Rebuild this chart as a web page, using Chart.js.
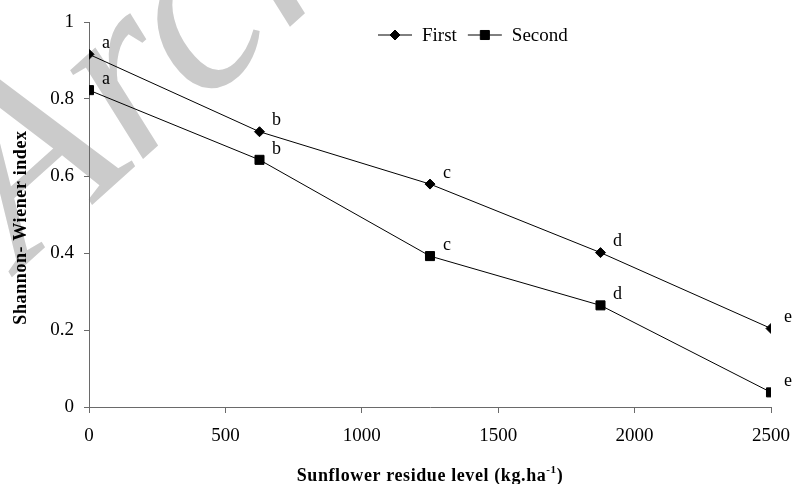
<!DOCTYPE html>
<html>
<head>
<meta charset="utf-8">
<script src="https://cdn.jsdelivr.net/npm/chart.js@4.4.0/dist/chart.umd.min.js"></script>
<style>
  html, body { margin: 0; padding: 0; background: #fff; }
  #wrap { width: 792px; height: 484px; }
</style>
</head>
<body>
<div id="wrap"><canvas id="chart" width="792" height="484"></canvas></div>
<script>
// residue levels (kg/ha) and Shannon-Wiener index
const residueLevels = [0, 625, 1250, 1875, 2500];
const firstValues = [0.916, 0.715, 0.579, 0.401, 0.204];
const secondValues = [0.823, 0.642, 0.392, 0.264, 0.038];
const firstLetters = ['a', 'b', 'c', 'd', 'e'];
const secondLetters = ['a', 'b', 'c', 'd', 'e'];
const seriesNames = ['First', 'Second'];

const SERIF = "'Liberation Serif', 'Times New Roman', serif";
const AXIS_COLOR = '#6a6a6a';

function toPoints(values) {
    return residueLevels.map((x, i) => ({ x: x, y: values[i] }));
}

// plain tick text: no thousands separator, "1" rather than "1.0"
function plainTick(value) {
    return String(Math.round(value * 10) / 10);
}

// faint diagonal watermark behind the plot
const watermark = {
    id: 'watermark',
    beforeDraw(chart) {
        const ctx = chart.ctx;
        ctx.save();
        ctx.fillStyle = '#cbcbcb';
        ctx.font = 'italic 250px ' + SERIF;
        ctx.translate(22, 268);
        ctx.rotate(-42 * Math.PI / 180);
        ctx.fillText('Archive of SID', 0, 0);
        ctx.restore();
    }
};

// significance letters next to each point
const pointLetters = {
    id: 'pointLetters',
    afterDatasetsDraw(chart) {
        const ctx = chart.ctx;
        const letterSets = [firstLetters, secondLetters];
        ctx.save();
        ctx.font = '18px ' + SERIF;
        ctx.fillStyle = '#000';
        ctx.textAlign = 'center';
        ctx.textBaseline = 'middle';
        chart.data.datasets.forEach((ds, di) => {
            chart.getDatasetMeta(di).data.forEach((pt, i) => {
                ctx.fillText(letterSets[di][i], pt.x + 17, pt.y - 11);
            });
        });
        ctx.restore();
    }
};

// legend inside the plot: short line with the marker through it
const lineLegend = {
    id: 'lineLegend',
    afterDraw(chart) {
        const ctx = chart.ctx;
        let x = 378;
        const y = 35;
        ctx.save();
        ctx.font = '19px ' + SERIF;
        ctx.textBaseline = 'middle';
        chart.data.datasets.forEach(ds => {
            ctx.strokeStyle = '#000';
            ctx.lineWidth = 1;
            ctx.beginPath();
            ctx.moveTo(x, y);
            ctx.lineTo(x + 34, y);
            ctx.stroke();
            ctx.fillStyle = '#000';
            Chart.helpers.drawPoint(ctx, {
                pointStyle: ds.pointStyle, radius: ds.pointRadius, borderWidth: 1
            }, x + 17, y);
            ctx.fillText(ds.label, x + 44, y + 1);
            x += 44 + ctx.measureText(ds.label).width + 11;
        });
        ctx.restore();
    }
};

// axis titles (x title carries a superscript)
const axisTitles = {
    id: 'axisTitles',
    afterDraw(chart) {
        const ctx = chart.ctx;
        const area = chart.chartArea;
        ctx.save();
        ctx.fillStyle = '#000';
        ctx.font = 'bold 18px ' + SERIF;
        ctx.letterSpacing = '0.6px';
        ctx.textBaseline = 'alphabetic';

        const main = 'Sunflower residue level (kg.ha';
        const sup = '-1';
        const end = ')';
        const wMain = ctx.measureText(main).width;
        const wEnd = ctx.measureText(end).width;
        ctx.font = 'bold 11px ' + SERIF;
        const wSup = ctx.measureText(sup).width;
        const cx = (area.left + area.right) / 2;
        let x = cx - (wMain + wSup + wEnd) / 2;
        const base = 481;
        ctx.font = 'bold 18px ' + SERIF;
        ctx.textAlign = 'left';
        ctx.fillText(main, x, base);
        x += wMain;
        ctx.font = 'bold 11px ' + SERIF;
        ctx.fillText(sup, x, base - 8);
        x += wSup;
        ctx.font = 'bold 18px ' + SERIF;
        ctx.fillText(end, x, base);

        ctx.translate(21, (area.top + area.bottom) / 2 + 13);
        ctx.rotate(-Math.PI / 2);
        ctx.textAlign = 'center';
        ctx.textBaseline = 'middle';
        ctx.fillText('Shannon- Wiener index', 0, 0);
        ctx.restore();
    }
};

const ctx = document.getElementById('chart').getContext('2d');
new Chart(ctx, {
    type: 'line',
    data: {
        datasets: [
            {
                label: seriesNames[0],
                data: toPoints(firstValues),
                borderColor: '#000',
                backgroundColor: '#000',
                borderWidth: 1,
                pointStyle: 'rectRot',
                pointRadius: 5,
                pointBorderWidth: 1,
                tension: 0
            },
            {
                label: seriesNames[1],
                data: toPoints(secondValues),
                borderColor: '#000',
                backgroundColor: '#000',
                borderWidth: 1,
                pointStyle: 'rect',
                pointRadius: 6.4,
                pointBorderWidth: 1,
                tension: 0
            }
        ]
    },
    options: {
        responsive: false,
        animation: false,
        devicePixelRatio: 1,
        layout: { padding: { left: 0, top: 22, right: 0, bottom: 0 } },
        scales: {
            x: {
                type: 'linear',
                min: 0, max: 2500,
                ticks: { stepSize: 500, padding: 12, color: '#000', callback: plainTick,
                         font: { family: SERIF, size: 19 } },
                grid: { drawOnChartArea: false, drawTicks: true, tickLength: 6, color: AXIS_COLOR },
                border: { display: true, color: AXIS_COLOR, width: 1 },
                afterFit(scale) {
                    scale.height = 77;
                    scale.paddingLeft = 0;
                    scale.paddingRight = 21;
                }
            },
            y: {
                min: 0, max: 1,
                ticks: { stepSize: 0.2, padding: 10, color: '#000', callback: plainTick,
                         font: { family: SERIF, size: 19 } },
                grid: { drawOnChartArea: false, drawTicks: true, tickLength: 5, color: AXIS_COLOR },
                border: { display: true, color: AXIS_COLOR, width: 1 },
                afterFit(scale) { scale.width = 89; }
            }
        },
        plugins: {
            legend: { display: false },
            tooltip: { enabled: false }
        }
    },
    plugins: [watermark, pointLetters, lineLegend, axisTitles]
});
</script>
</body>
</html>
